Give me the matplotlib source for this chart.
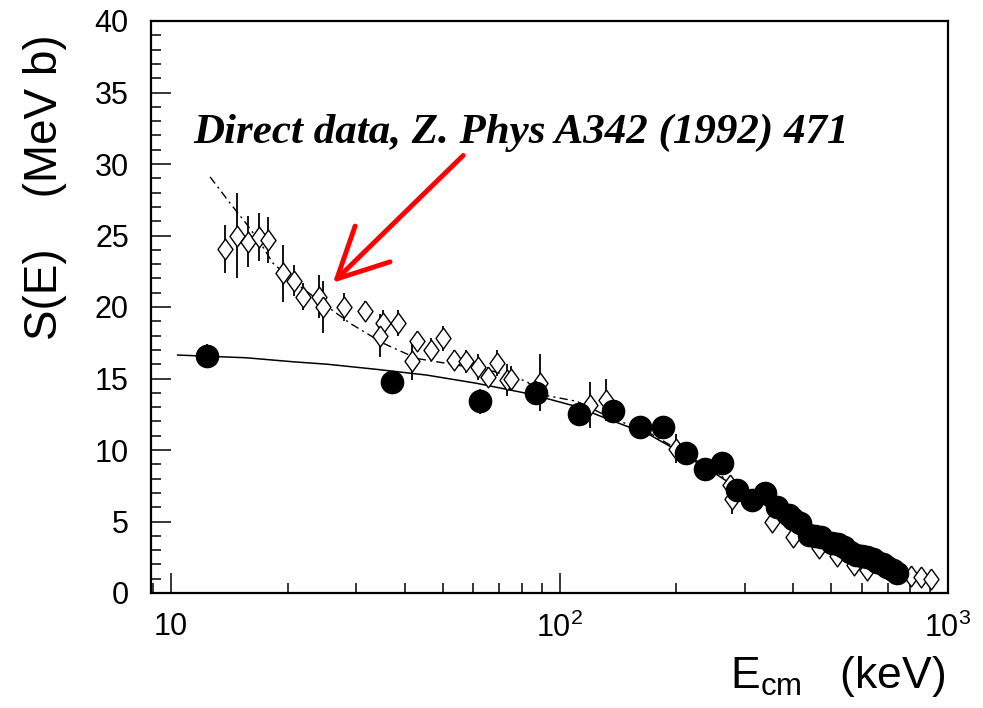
import matplotlib
matplotlib.use("Agg")
import matplotlib.pyplot as plt
from matplotlib.ticker import FixedLocator, FixedFormatter, MultipleLocator, NullFormatter

plt.rcParams['font.family'] = ['Liberation Sans', 'DejaVu Sans']
plt.rcParams['mathtext.fontset'] = 'custom'
plt.rcParams['mathtext.rm'] = 'Liberation Sans'
plt.rcParams['mathtext.it'] = 'Liberation Sans:italic'
plt.rcParams['mathtext.default'] = 'regular'

# Indirect (Trojan Horse) S-factor points: energy (keV), S (MeV b), error
thm_E = [12.4, 37.1, 62.5, 87.1, 112, 137, 161.5, 185, 212, 237, 262, 287, 313,
         339, 363, 389, 400, 417, 438, 455, 470, 504, 520, 540, 560, 578, 600,
         620, 640, 658, 680, 698, 720, 741]
thm_S = [16.6, 14.75, 13.4, 14.0, 12.5, 12.7, 11.6, 11.6, 9.8, 8.65, 9.1, 7.2, 6.5,
         6.97, 6.03, 5.45, 5.2, 4.87, 4.06, 4.0, 3.94, 3.48, 3.4, 3.24, 2.9, 2.66, 2.6,
         2.54, 2.35, 2.19, 2.0, 1.84, 1.6, 1.38]
thm_err = [0.8, 0.8, 0.9, 0.8, 0.8, 0.7, 0.7, 0.6, 0.6, 0.5, 0.5, 0.5, 0.4,
           0.4, 0.4, 0.4, 0.3, 0.3, 0.3, 0.3, 0.3, 0.3, 0.3, 0.3, 0.3, 0.3, 0.3,
           0.3, 0.3, 0.3, 0.3, 0.3, 0.3, 0.3]

# Direct measurements (Z. Phys A342 (1992) 471)
dir_E = [13.8, 14.8, 15.8, 16.8, 17.8, 19.4, 20.7, 21.8, 24.1, 24.6, 27.9, 31.6,
         35.2, 34.5, 38.5, 41.7, 42.9, 46.7, 50.2, 53.5, 57.5, 61.8, 65.6, 69.0,
         73.2, 75.0, 89.2, 120, 132, 199, 275, 278, 353, 399, 465, 519, 572, 620,
         801, 850, 902]
dir_S = [24.06, 25.0, 24.57, 24.9, 24.7, 22.36, 21.84, 20.72, 20.72, 20.0, 20.0, 19.7,
         18.9, 18.0, 18.9, 16.2, 17.6, 17.0, 17.8, 16.3, 16.2, 15.8, 15.1, 16.1,
         14.9, 15.0, 14.7, 13.15, 13.5, 10.1, 7.55, 6.6, 5.0, 3.94, 3.15, 2.57, 1.95, 1.6,
         1.2, 1.1, 1.0]
dir_err = [1.7, 3.0, 1.8, 1.7, 1.6, 2.0, 1.1, 0.95, 1.5, 1.8, 1.0, 0.7,
           0.9, 1.5, 0.9, 1.3, 0.6, 0.8, 0.9, 0.7, 0.8, 0.9, 0.7, 0.9,
           1.1, 0.9, 2.0, 1.6, 1.5, 1.0, 0.6, 1.1, 0.4, 0.3, 0.3, 0.3, 0.3, 0.3,
           0.3, 0.3, 0.3]

# Bare-nucleus S-factor fit (solid)
bare_E = [10.4, 15.6, 20.6, 25.2, 33.8, 45.5, 61.3, 82.4, 89, 110.9, 132, 171, 197,
          250, 300, 350, 400, 450, 500, 600, 700, 760]
bare_S = [16.64, 16.45, 16.17, 16.0, 15.64, 15.24, 14.66, 13.96, 13.73, 13.03, 12.2,
          11.05, 10.1, 8.4, 7.0, 5.9, 5.0, 4.2, 3.6, 2.7, 2.0, 1.6]

# Screened S-factor (dash-dot)
scr_E = [12.6, 14.2, 15.6, 16.9, 18.3, 21.5, 24.6, 28.9, 35.2, 42.9, 55.5, 67.6,
         82.4, 89, 110.9, 132, 171, 197, 250, 300, 400, 500, 600, 700, 760]
scr_S = [29.1, 27.25, 25.85, 24.57, 23.06, 21.42, 20.26, 18.86, 17.46, 16.4, 15.9,
         15.5, 14.8, 13.9, 13.4, 12.4, 11.17, 10.2, 8.5, 7.1, 5.05, 3.65, 2.75, 2.05, 1.65]

x_ticks = [10, 100, 1000]
x_ticklabels = ['10', r'$10^{2}$', r'$10^{3}$']

# open diamond marker, a bit wider than matplotlib's thin diamond
diamond = [(0, 1), (0.72, 0), (0, -1), (-0.72, 0), (0, 1)]

fig = plt.figure(figsize=(9.83, 7.08), dpi=100)
ax = fig.add_axes([151 / 983, 115 / 708, 797 / 983, 572 / 708])
ax.set_xscale('log')
ax.set_xlim(8.88, 1000)
ax.set_ylim(0, 40)

ax.plot(bare_E, bare_S, color='black', lw=1.1, zorder=2)
ax.plot(scr_E, scr_S, color='black', lw=1.0, linestyle=(0, (6, 3, 1.5, 3)), zorder=2)

ax.errorbar(dir_E, dir_S, yerr=dir_err, fmt='none', ecolor='black',
            elinewidth=1.3, capsize=0, zorder=3)
ax.plot(dir_E, dir_S, linestyle='none', marker=diamond, ms=15, mfc='white',
        mec='black', mew=1.0, zorder=3)
ax.errorbar(thm_E, thm_S, yerr=thm_err, fmt='o', ms=16, mfc='black', mec='black',
            ecolor='black', elinewidth=1.3, capsize=0, zorder=4)

for sp in ax.spines.values():
    sp.set_linewidth(1.6)

ax.xaxis.set_major_locator(FixedLocator(x_ticks))
ax.xaxis.set_major_formatter(FixedFormatter(x_ticklabels))
ax.xaxis.set_minor_formatter(NullFormatter())
ax.yaxis.set_major_locator(MultipleLocator(5))
ax.yaxis.set_minor_locator(MultipleLocator(1))
ax.tick_params(which='both', direction='in', top=False, right=False, width=1.1)
ax.tick_params(which='major', length=14.5)
ax.tick_params(which='minor', length=7.5)
ax.tick_params(axis='y', which='major', labelsize=22, pad=16)
ax.tick_params(axis='x', which='major', labelsize=22, pad=14)

fig.text(45 / 983, 0.735, 'S(E)    (MeV b)', rotation=90, ha='center', va='center',
         fontsize=33)
fig.text(945 / 983, 20 / 708, r'E$_{cm}$   (keV)', ha='right', va='baseline',
         fontsize=32)

ax.text(0.0527, 0.787, 'Direct data, Z. Phys A342 (1992) 471', transform=ax.transAxes,
        ha='left', va='baseline', fontsize=31, fontweight='bold', fontstyle='italic',
        family=['Liberation Serif', 'DejaVu Serif'])

ax.annotate('', xy=(26.1, 21.7), xytext=(56.5, 30.6),
            arrowprops=dict(arrowstyle='->,head_length=1.8,head_width=0.9',
                            color='red', lw=3.5, mutation_scale=20,
                            shrinkA=0, shrinkB=0))

fig.savefig('out.png', dpi=100)
